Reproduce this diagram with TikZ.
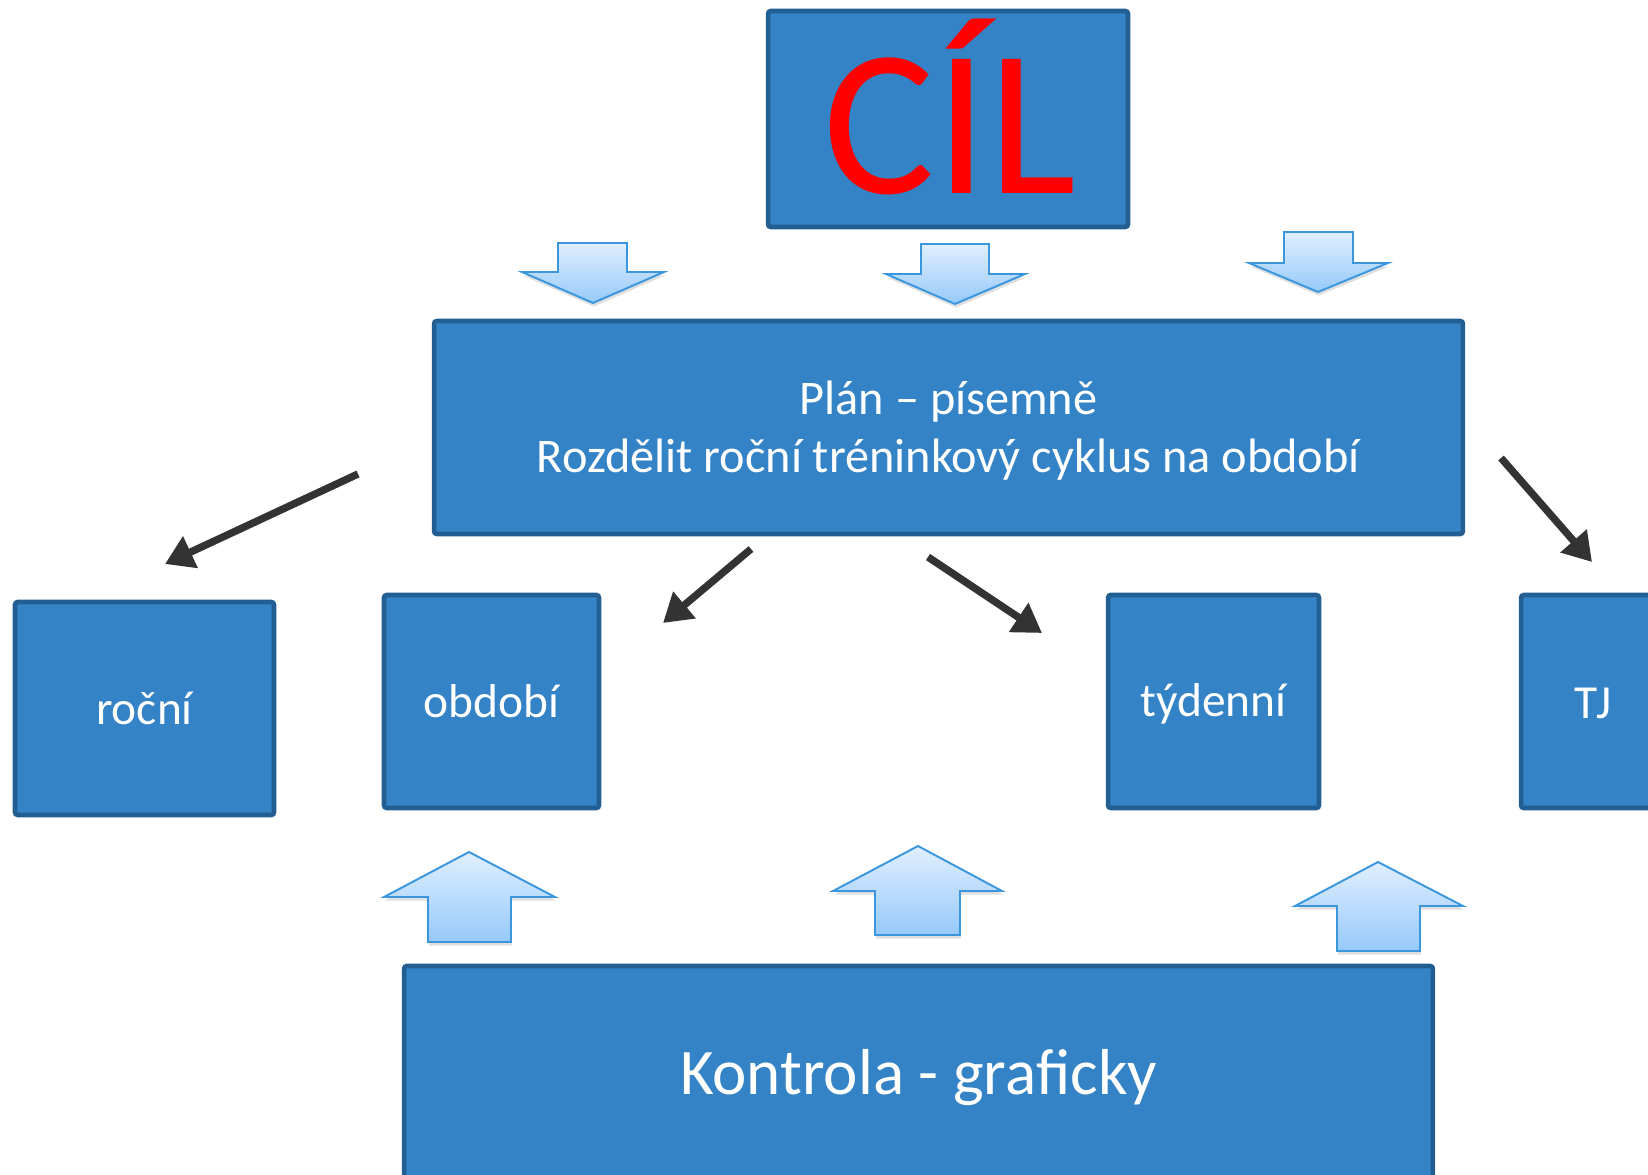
\documentclass[tikz,border=0pt]{standalone}
\usepackage{fontspec}
\setmainfont{Carlito}
\usetikzlibrary{arrows.meta,shadows}
\definecolor{boxfill}{RGB}{52,131,198}
\definecolor{boxline}{RGB}{35,94,147}
\definecolor{arrtop}{RGB}{224,239,254}
\definecolor{arrbot}{RGB}{150,201,250}
\definecolor{arrline}{RGB}{58,150,221}
\definecolor{darkarrow}{RGB}{51,51,51}
\definecolor{cilred}{RGB}{255,0,0}
\tikzset{
  box/.style={draw=boxline, fill=boxfill, line width=2.6pt, rounded corners=1.5pt, inner sep=0pt, text=white},
  boxlabel/.style={text=white, font=\fontsize{27}{33}\selectfont},
  barrow/.style={draw=arrline, line width=1.1pt, top color=arrtop, bottom color=arrbot,
     drop shadow={shadow xshift=0.5pt, shadow yshift=-2pt, opacity=0.25}},
  darr/.style={draw=darkarrow, line width=4.2pt, -{Triangle[length=16pt,width=19pt]}}
}
\begin{document}
\begin{tikzpicture}[x=0.02cm,y=-0.02cm]
\useasboundingbox (0,0) rectangle (1648,1175);
\begin{scope}
\clip (0,0) rectangle (1648,1175);
% boxes
\node[box, minimum width=7.2cm, minimum height=4.32cm] (cil) at (948,119) {};
\node[text=cilred, font=\fontsize{119}{119}\selectfont] (ciltext) at (950,107) {CÍL};
\node[box, minimum width=20.58cm, minimum height=4.26cm] (plan) at (948.5,427.5) {};
\node[text=white, align=center, font=\fontsize{27.5}{33}\selectfont] (plantext) at (948.5,431)
      {Plán – písemně\\Rozdělit roční tréninkový cyklus na období};
\node[box, boxlabel, minimum width=5.18cm, minimum height=4.26cm] (rocni) at (144.5,708.5) {roční};
\node[box, boxlabel, minimum width=4.3cm, minimum height=4.26cm] (obdobi) at (491.5,701.5) {období};
\node[box, minimum width=4.22cm, minimum height=4.26cm] (tydenni) at (1213.5,701.5) {};
\node[boxlabel] (tydennitext) at (1213.5,704) {týdenní};
\node[box, minimum width=4.22cm, minimum height=4.26cm] (tj) at (1626.5,701.5) {};
\node[boxlabel] (tjtext) at (1593,703) {TJ};
\node[box, minimum width=20.58cm, minimum height=4.32cm] (kontrola) at (918.5,1074) {};
\node[text=white, font=\fontsize{37}{44}\selectfont] (kontrolatext) at (918.5,1078) {Kontrola - graficky};
% down block arrows
\draw[barrow] (558,243) -- (627,243) -- (627,272) -- (664,272) -- (593,303) -- (522,272) -- (558,272) -- cycle;
\draw[barrow] (921,244) -- (989,244) -- (989,274) -- (1025,274) -- (955,304) -- (886,274) -- (921,274) -- cycle;
\draw[barrow] (1284,232) -- (1353,232) -- (1353,263) -- (1388,263) -- (1318,292) -- (1249,263) -- (1284,263) -- cycle;
% up block arrows
\draw[barrow] (469,852) -- (555,897) -- (511,897) -- (511,942) -- (428,942) -- (428,897) -- (384,897) -- cycle;
\draw[barrow] (918,846) -- (1002,891) -- (960,891) -- (960,935) -- (875,935) -- (875,891) -- (833,891) -- cycle;
\draw[barrow] (1378,862) -- (1463,906) -- (1420,906) -- (1420,951) -- (1337,951) -- (1337,906) -- (1295,906) -- cycle;
% dark arrows
\coordinate (a1s) at (358,474); \coordinate (a1e) at (165,564);
\coordinate (a2s) at (751,549); \coordinate (a2e) at (663,623);
\coordinate (a3s) at (928,557); \coordinate (a3e) at (1042,633);
\coordinate (a4s) at (1501,458); \coordinate (a4e) at (1592,562);
\draw[darr] (a1s) -- (a1e);
\draw[darr] (a2s) -- (a2e);
\draw[darr] (a3s) -- (a3e);
\draw[darr] (a4s) -- (a4e);
\end{scope}
\end{tikzpicture}
\end{document}
